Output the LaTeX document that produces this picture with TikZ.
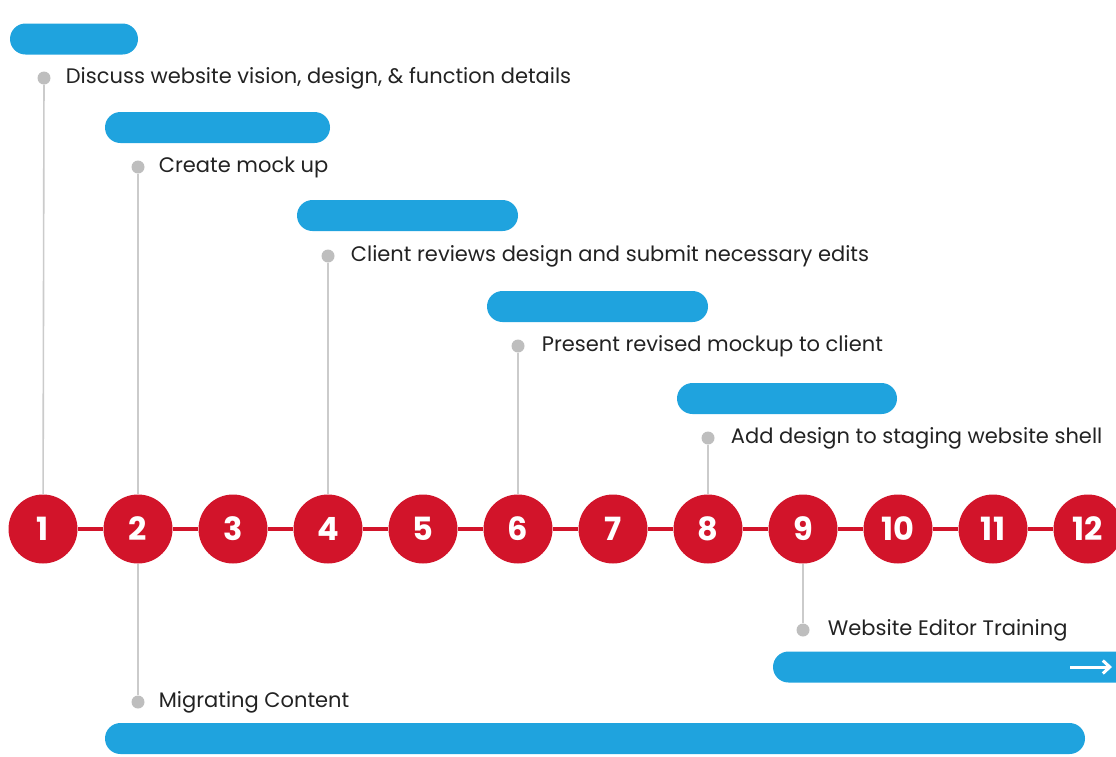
\documentclass[tikz,border=0pt]{standalone}
\usepackage{fontspec}
\setmainfont{Poppins}
\usetikzlibrary{positioning,arrows.meta}
\definecolor{tlred}{HTML}{D2142A}
\definecolor{tlblue}{HTML}{1FA3DE}
\definecolor{tldot}{HTML}{BEBEBE}
\definecolor{tltext}{HTML}{222222}
\tikzset{
  step circ/.style={circle,fill=tlred,text=white,minimum size=69pt,inner sep=0pt,font=\fontsize{32}{32}\selectfont\bfseries},
  bar/.style={rectangle,rounded corners=15.5pt,fill=tlblue,minimum height=31pt,inner sep=0pt},
  dot/.style={circle,fill=tldot,minimum size=13pt,inner sep=0pt},
  lbl/.style={inner sep=0pt,text=tltext,font=\fontsize{21}{21}\selectfont},
  gline/.style={draw=tldot!80,line width=1.6pt},
  redline/.style={draw=tlred,line width=4.5pt}
}

\begin{document}
\begin{tikzpicture}[x=1pt,y=-1pt]
              \clip (0,0) rectangle (1116,756);
              \useasboundingbox (0,0) rectangle (1116,756);
              \begin{scope}[>=stealth]
                % the twelve steps
                \node (c1) at (43,529) [step circ]{1};
                \node (c2) at (138,529) [step circ]{2};
                \node (c3) at (233,529) [step circ]{3};
                \node (c4) at (328,529) [step circ]{4};
                \node (c5) at (423,529) [step circ]{5};
                \node (c6) at (518,529) [step circ]{6};
                \node (c7) at (613,529) [step circ]{7};
                \node (c8) at (708,529) [step circ]{8};
                \node (c9) at (803,529) [step circ]{9};
                \node (c10) at (898,529) [step circ]{10};
                \node (c11) at (993,529) [step circ]{11};
                \node (c12) at (1088,529) [step circ]{12};

                \draw[redline] (c1) -- (c2);
                \draw[redline] (c2) -- (c3);
                \draw[redline] (c3) -- (c4);
                \draw[redline] (c4) -- (c5);
                \draw[redline] (c5) -- (c6);
                \draw[redline] (c6) -- (c7);
                \draw[redline] (c7) -- (c8);
                \draw[redline] (c8) -- (c9);
                \draw[redline] (c9) -- (c10);
                \draw[redline] (c10) -- (c11);
                \draw[redline] (c11) -- (c12);

                % bars
                \node (b1) at (74,39) [bar,minimum width=128pt]{};
                \node (b2) at (217.5,127.5) [bar,minimum width=225pt]{};
                \node (b3) at (407.5,215.5) [bar,minimum width=221pt]{};
                \node (b4) at (597.5,306.5) [bar,minimum width=221pt]{};
                \node (b5) at (787,398.5) [bar,minimum width=220pt]{};
                \node (b6) at (955,667) [bar,minimum width=364pt]{};
                \node (b7) at (595,738.5) [bar,minimum width=980pt]{};

                \coordinate (a1) at (1070,667);
                \coordinate (a2) at (1112,667);
                \draw[white,line width=3pt,-{Straight Barb[length=7pt,width=13pt]}] (a1) -- (a2);

                % dots and labels
                \node (d1) at (44,78) [dot]{};
                \node (d2) at (138,167) [dot]{};
                \node (d4) at (328,256) [dot]{};
                \node (d6) at (518,346) [dot]{};
                \node (d8) at (708,438) [dot]{};
                \node (d9) at (803,630) [dot]{};
                \node (d2b) at (138,702) [dot]{};

                \draw[gline] (d1) -- (c1);
                \draw[gline] (d2) -- (c2);
                \draw[gline] (d4) -- (c4);
                \draw[gline] (d6) -- (c6);
                \draw[gline] (d8) -- (c8);
                \draw[gline] (c9) -- (d9);
                \draw[gline] (c2) -- (d2b);

                \node (t1) [lbl,right=15pt of d1]{Discuss website vision, design, \& function details};
                \node (t2) [lbl,right=14pt of d2]{Create mock up};
                \node (t4) [lbl,right=16pt of d4]{Client reviews design and submit necessary edits};
                \node (t6) [lbl,right=17pt of d6]{Present revised mockup to client};
                \node (t8) [lbl,right=16pt of d8]{Add design to staging website shell};
                \node (t9) [lbl,right=18pt of d9]{Website Editor Training};
                \node (t2b) [lbl,right=14pt of d2b]{Migrating Content};
              \end{scope}
              \end{tikzpicture}
\end{document}
